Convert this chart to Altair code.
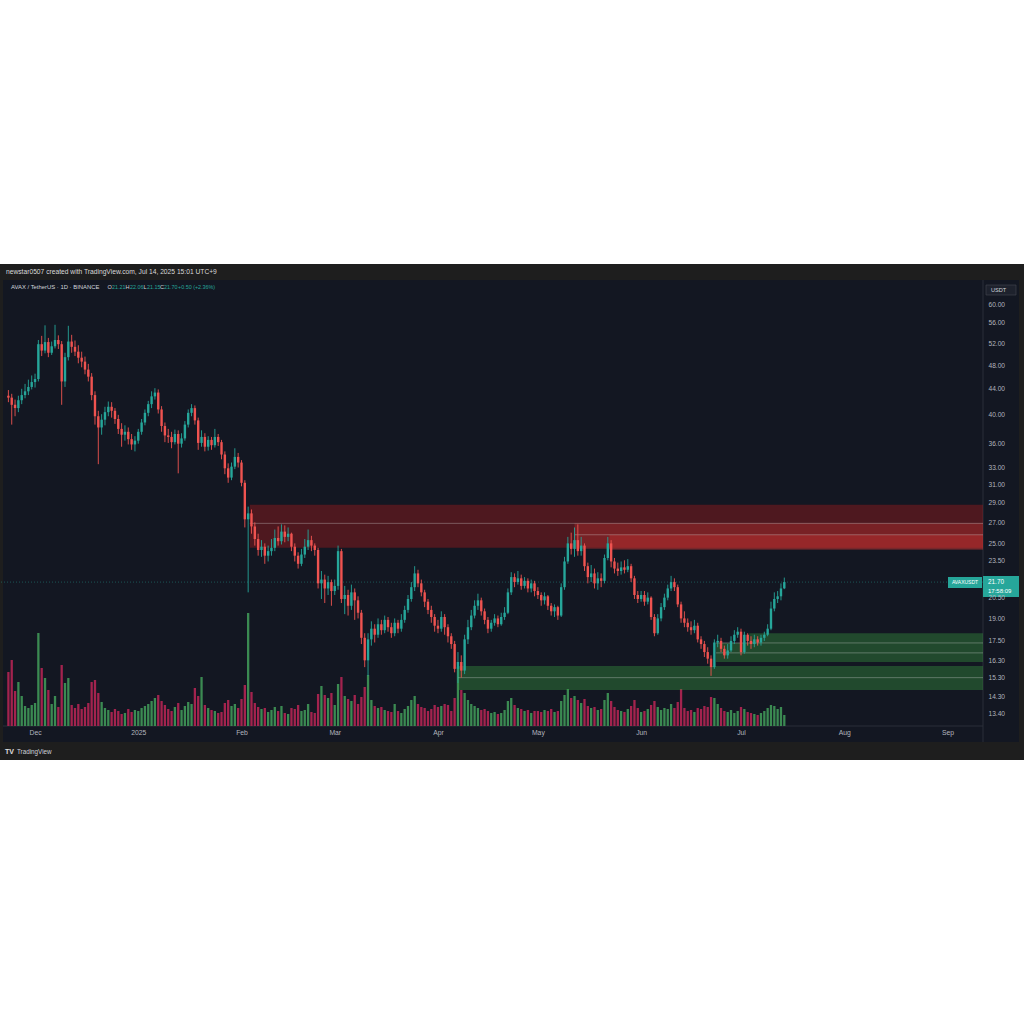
import altair as alt
import pandas as pd

FONT = "Liberation Sans"

# ---------------- data: AVAX / TetherUS, 1D, 2024-11-23 .. 2025-07-14 ----------------
first_open = 42.9
last_open = 21.21

closes_nov = [42.6, 41.5, 41.0, 42.2, 43.0, 43.6, 44.3, 45.1]
closes_dec = [45.6, 51.8, 50.6, 52.2, 50.2, 51.4, 52.6, 51.8, 45.2, 49.4, 52.3, 51.3, 50.4, 49.3, 48.6, 47.2,
              46.0, 43.0, 39.8, 38.2, 39.3, 40.4, 41.2, 40.6, 39.4, 38.0, 37.2, 37.6, 36.6, 35.9, 36.4]
closes_jan = [37.6, 38.9, 40.3, 41.6, 42.8, 43.4, 40.8, 38.4, 37.1, 36.9, 36.2, 37.3, 36.0, 36.7, 38.6, 40.3,
              41.0, 39.2, 36.1, 36.9, 35.6, 36.5, 35.8, 36.9, 36.2, 34.6, 32.9, 31.8, 33.1, 34.3, 33.6]
closes_feb = [31.2, 27.3, 27.9, 26.6, 25.4, 24.4, 24.7, 23.9, 24.3, 24.6, 25.5, 25.2, 26.1, 25.6, 25.9, 24.7,
              23.9, 23.2, 24.0, 24.7, 25.3, 24.8, 24.4, 21.6, 21.9, 21.2, 21.7, 21.0]
closes_mar = [21.4, 24.3, 20.4, 20.7, 19.9, 20.9, 20.3, 19.4, 17.7, 16.3, 17.6, 18.3, 17.9, 18.6, 18.2, 18.9,
              18.4, 18.0, 18.7, 18.3, 18.9, 19.6, 20.4, 21.3, 22.4, 21.6, 20.9, 20.2, 19.6, 19.1, 18.5]
closes_apr = [18.3, 19.1, 18.4, 17.8, 17.3, 15.8, 16.2, 15.7, 17.6, 18.4, 19.2, 19.9, 20.3, 19.5, 18.9, 18.3,
              18.7, 19.0, 18.6, 19.1, 19.4, 20.9, 22.1, 21.7, 22.0, 21.4, 21.8, 21.2, 21.6, 21.0]
closes_may = [20.7, 20.3, 20.6, 19.9, 19.5, 19.8, 19.2, 21.3, 23.4, 25.0, 24.5, 25.3, 24.3, 24.8, 23.0, 22.1,
              22.4, 21.6, 22.0, 21.8, 23.7, 25.0, 23.4, 22.8, 22.6, 22.9, 22.7, 23.0, 22.0, 20.7, 20.4]
closes_jun = [20.7, 20.2, 20.5, 19.1, 18.0, 19.0, 19.8, 20.5, 21.2, 21.7, 21.3, 20.0, 19.0, 18.7, 18.4, 18.2,
              18.5, 17.6, 17.3, 16.8, 16.4, 15.9, 17.4, 17.5, 17.0, 16.6, 16.9, 17.5, 17.9, 18.1]
closes_jul = [16.8, 17.9, 17.5, 17.3, 17.6, 17.4, 17.7, 17.9, 18.3, 19.7, 20.4, 20.6, 21.20, 21.70]

highs_nov = [43.8, 43.2, 42.3, 42.9, 44.0, 44.8, 45.5, 46.2]
highs_dec = [46.5, 52.6, 53.4, 55.5, 53.0, 52.3, 55.6, 53.5, 52.4, 50.2, 55.4, 53.6, 52.5, 51.6, 50.4, 49.5,
             48.2, 46.6, 43.6, 40.6, 40.1, 41.2, 42.0, 41.9, 41.0, 40.0, 38.8, 38.5, 38.2, 37.3, 37.0]
highs_jan = [38.0, 39.4, 40.8, 42.1, 43.6, 44.1, 43.9, 41.3, 38.9, 38.0, 37.6, 37.9, 37.8, 37.4, 39.1, 40.8,
             41.6, 41.4, 39.6, 37.8, 37.4, 37.0, 36.9, 38.0, 37.3, 36.5, 35.0, 33.5, 33.6, 35.4, 34.8]
highs_feb = [33.9, 31.5, 28.6, 28.3, 27.0, 25.9, 25.3, 25.0, 24.8, 25.4, 26.3, 26.6, 26.8, 26.7, 26.5, 26.0,
             25.0, 24.2, 24.5, 25.4, 26.3, 25.7, 25.0, 24.6, 22.6, 22.3, 22.2, 21.9]
highs_mar = [21.9, 24.8, 24.5, 21.4, 21.1, 21.5, 21.2, 20.6, 19.6, 18.0, 18.0, 18.8, 18.6, 19.0, 18.9, 19.2,
             19.1, 18.7, 19.0, 18.9, 19.3, 19.9, 20.7, 21.7, 23.0, 22.7, 21.9, 21.1, 20.4, 19.9, 19.3]
highs_apr = [18.9, 19.5, 19.3, 18.6, 18.0, 17.5, 16.8, 16.6, 17.9, 18.9, 19.6, 20.3, 20.8, 20.5, 19.7, 19.1,
             18.9, 19.3, 19.2, 19.4, 19.8, 21.2, 22.5, 22.4, 22.6, 22.3, 22.1, 22.0, 21.9, 21.8]
highs_may = [21.3, 20.9, 20.9, 20.7, 20.1, 20.0, 19.9, 21.6, 23.8, 25.6, 26.0, 26.5, 26.8, 25.6, 25.0, 23.3,
             23.1, 22.8, 22.5, 22.4, 24.0, 25.6, 25.3, 23.7, 23.3, 23.4, 23.5, 23.6, 23.2, 22.2, 21.0]
highs_jun = [21.0, 21.0, 20.9, 20.6, 19.3, 19.3, 20.1, 20.8, 21.5, 22.2, 22.0, 21.5, 20.2, 19.5, 19.0, 18.8,
             18.9, 18.7, 17.8, 17.5, 17.1, 16.6, 17.6, 17.9, 17.7, 17.2, 17.3, 17.8, 18.2, 18.4]
highs_jul = [18.3, 18.1, 18.0, 17.8, 17.9, 17.8, 17.9, 18.1, 18.6, 20.2, 20.9, 21.0, 21.6, 22.06]

lows_nov = [41.9, 38.6, 39.8, 40.4, 41.6, 42.5, 43.0, 43.9]
lows_dec = [44.2, 45.2, 49.6, 50.1, 49.4, 49.8, 51.0, 50.9, 41.5, 44.3, 48.8, 50.2, 49.6, 48.3, 47.6, 46.4,
            45.2, 42.2, 38.6, 33.4, 37.2, 38.5, 39.8, 39.6, 38.7, 37.3, 35.6, 36.4, 35.9, 35.2, 35.0]
lows_jan = [36.0, 37.2, 38.5, 39.8, 41.0, 42.3, 40.2, 37.6, 36.2, 36.1, 35.4, 35.9, 32.3, 35.5, 36.4, 38.2,
            39.8, 38.6, 35.2, 35.6, 35.0, 35.1, 35.2, 35.5, 35.7, 34.0, 32.2, 31.2, 31.5, 32.8, 33.0]
lows_feb = [30.8, 26.5, 20.9, 25.9, 24.8, 23.9, 23.8, 23.2, 23.4, 23.9, 24.3, 24.8, 24.9, 25.1, 25.2, 24.3,
            23.4, 22.8, 23.0, 23.7, 24.4, 24.3, 23.9, 21.2, 20.4, 20.1, 20.7, 19.9]
lows_mar = [20.7, 21.1, 20.1, 19.3, 19.2, 19.6, 18.9, 19.0, 17.3, 15.9, 15.4, 17.2, 17.4, 17.7, 17.9, 18.0,
            18.1, 17.7, 17.8, 18.0, 18.1, 18.7, 19.4, 20.2, 21.0, 21.3, 20.6, 19.8, 19.3, 18.7, 18.1]
lows_apr = [18.0, 18.1, 17.9, 17.4, 17.0, 15.6, 15.0, 15.3, 15.5, 17.3, 18.2, 19.0, 19.6, 19.2, 18.6, 18.0,
            18.1, 18.5, 18.4, 18.5, 18.9, 19.3, 20.7, 21.3, 21.5, 21.1, 21.2, 20.9, 20.9, 20.6]
lows_may = [20.4, 19.9, 20.0, 19.6, 19.2, 19.1, 18.9, 19.1, 21.1, 23.2, 24.0, 23.8, 23.9, 23.9, 22.6, 21.6,
            21.7, 21.2, 21.1, 21.3, 21.6, 23.5, 22.9, 22.4, 22.2, 22.3, 22.4, 22.5, 21.7, 20.4, 20.1]
lows_jun = [20.2, 19.9, 20.0, 18.9, 17.8, 17.9, 18.8, 19.6, 20.3, 21.0, 21.0, 19.8, 18.7, 18.4, 18.1, 17.9,
            18.0, 17.4, 17.0, 16.5, 16.1, 15.4, 15.8, 17.1, 16.8, 16.4, 16.4, 16.8, 17.3, 17.7]
lows_jul = [16.6, 16.7, 17.2, 17.0, 17.1, 17.2, 17.2, 17.5, 17.8, 18.2, 19.5, 20.1, 20.3, 21.15]

# volume, millions of AVAX
vol_nov = [10.8, 13.2, 7.0, 8.8, 6.0, 4.0, 3.6, 4.2]
vol_dec = [4.6, 18.6, 11.6, 9.6, 7.2, 4.4, 6.0, 3.8, 12.2, 8.6, 9.6, 4.2, 3.6, 4.4, 3.4, 3.8,
           4.6, 8.8, 9.2, 6.6, 4.8, 3.6, 3.2, 2.8, 3.4, 3.0, 2.4, 2.6, 3.4, 2.8, 3.2]
vol_jan = [3.0, 3.6, 4.0, 4.4, 5.0, 5.6, 6.2, 5.0, 4.2, 3.4, 3.0, 3.8, 4.6, 3.2, 4.0, 4.8,
           4.4, 7.6, 6.0, 9.8, 4.2, 3.6, 3.2, 3.0, 2.6, 2.8, 4.6, 5.2, 4.0, 4.4, 3.6]
vol_feb = [5.4, 8.2, 22.6, 6.8, 4.6, 3.8, 3.4, 3.6, 2.8, 3.2, 3.8, 3.0, 4.0, 2.6, 2.4, 3.6,
           3.4, 4.2, 3.0, 3.2, 4.4, 2.8, 2.6, 6.4, 8.0, 6.2, 5.6, 6.6]
vol_mar = [4.2, 8.4, 9.8, 6.0, 5.4, 5.0, 6.2, 4.4, 5.8, 7.8, 10.2, 5.2, 4.0, 3.6, 3.8, 3.2,
           3.0, 2.8, 4.4, 3.0, 2.6, 3.4, 4.0, 5.2, 6.0, 4.4, 3.8, 3.6, 3.0, 3.4, 4.2]
vol_apr = [3.8, 4.0, 4.4, 4.2, 3.0, 5.6, 11.8, 7.2, 6.6, 5.2, 4.4, 4.0, 3.6, 3.2, 3.4, 3.0,
           2.6, 2.8, 2.4, 2.6, 3.2, 5.0, 5.6, 4.2, 3.6, 3.4, 3.0, 3.2, 2.6, 3.0]
vol_may = [3.0, 2.8, 3.2, 3.0, 3.4, 2.8, 3.0, 5.0, 6.2, 7.4, 5.6, 6.0, 5.2, 4.6, 5.4, 4.0,
           3.6, 3.8, 3.2, 3.4, 5.2, 6.6, 5.0, 3.8, 3.2, 3.0, 2.8, 3.4, 4.0, 5.2, 3.6]
vol_jun = [2.8, 3.0, 3.4, 4.2, 5.0, 3.8, 3.2, 3.6, 3.4, 4.4, 3.6, 4.8, 7.4, 3.6, 3.0, 3.2,
           2.8, 3.6, 3.4, 4.0, 3.8, 5.8, 5.6, 4.4, 3.6, 3.0, 2.8, 3.2, 2.6, 3.0]
vol_jul = [3.8, 3.4, 2.8, 2.6, 2.4, 2.2, 2.6, 3.0, 3.6, 4.2, 4.0, 3.4, 3.8, 2.2]

# drawn zones (price levels) and their start dates
zone_kind = ["supply", "supply_core", "supply_core", "demand", "demand", "demand"]
zone_start = ["2025-02-03T12:00:00Z", "2025-05-12T00:00:00Z", "2025-05-22T12:00:00Z",
              "2025-04-07T00:00:00Z", "2025-06-23T12:00:00Z", "2025-07-03T12:00:00Z"]
zone_top = [28.8, 26.9, 25.8, 15.97, 17.37, 18.0]
zone_bottom = [24.6, 24.5, 24.4, 14.63, 16.2, 17.37]
level_start = ["2025-02-03T12:00:00Z", "2025-05-12T00:00:00Z", "2025-04-07T00:00:00Z",
               "2025-06-23T12:00:00Z", "2025-06-23T12:00:00Z"]
level_price = [26.9, 25.8, 15.3, 17.37, 16.75]

price_ticks = [60, 56, 52, 48, 44, 40, 36, 33, 31, 29, 27, 25, 23.5, 20.5, 19, 17.5, 16.3, 15.3, 14.3, 13.4]
month_ticks = [(2024, 12), (2025, 1), (2025, 2), (2025, 3), (2025, 4), (2025, 5), (2025, 6),
               (2025, 7), (2025, 8), (2025, 9)]

header_text = "newstar0507 created with TradingView.com, Jul 14, 2025 15:01 UTC+9"
symbol_text = "AVAX / TetherUS · 1D · BINANCE"
clock_text = "17:58:09"

# ---------------- frames ----------------
closes = closes_nov + closes_dec + closes_jan + closes_feb + closes_mar + closes_apr + closes_may + closes_jun + closes_jul
highs = highs_nov + highs_dec + highs_jan + highs_feb + highs_mar + highs_apr + highs_may + highs_jun + highs_jul
lows = lows_nov + lows_dec + lows_jan + lows_feb + lows_mar + lows_apr + lows_may + lows_jun + lows_jul
volumes = vol_nov + vol_dec + vol_jan + vol_feb + vol_mar + vol_apr + vol_may + vol_jun + vol_jul
opens = [first_open] + closes[:-2] + [last_open]

dates = pd.date_range("2024-11-23", periods=len(closes), freq="D")
df = pd.DataFrame({
    "date": dates.strftime("%Y-%m-%dT00:00:00Z"),
    "open": opens, "high": highs, "low": lows, "close": closes, "volume": volumes,
})
df["high"] = df[["high", "open", "close"]].max(axis=1)
df["low"] = df[["low", "open", "close"]].min(axis=1)

END = "2025-09-11T16:00:00Z"
zones = pd.DataFrame({"kind": zone_kind, "start": zone_start, "end": END, "top": zone_top, "bottom": zone_bottom})
levels = pd.DataFrame({"start": level_start, "end": END, "price": level_price})

last = df.iloc[[-1]].copy()
last["ptxt"] = last["close"].map(lambda v: f"{v:.2f}")
last["clock"] = clock_text
prev_close = df["close"].iloc[-2]
chg = last["close"].iloc[0] - prev_close
chg_txt = f"{chg:+.2f} ({chg / prev_close * 100:+.2f}%)"
o, h, l, c = (last[k].iloc[0] for k in ["open", "high", "low", "close"])

one = pd.DataFrame({"k": [0]})

# ---------------- scales / axes ----------------
UP, DN = "#26a69a", "#ef5350"
VUP, VDN = "#3b8a52", "#a3234e"
BG, FRAME, GRIDC, TXT = "#131722", "#1e1e1e", "#2a2e39", "#b2b5be"

xs = alt.Scale(type="utc", padding=0,
               domain=[alt.DateTime(year=2024, month=11, date=20, hours=11, minutes=30, utc=True),
                       alt.DateTime(year=2025, month=9, date=11, hours=16, utc=True)])
xaxis = alt.Axis(values=[alt.DateTime(year=y, month=m, date=1, utc=True) for y, m in month_ticks],
                 labelExpr="utcFormat(datum.value, '%m') == '01' ? utcFormat(datum.value, '%Y') : utcFormat(datum.value, '%b')",
                 grid=False, ticks=False, domain=False, labelFontSize=6.8, labelColor=TXT, labelFont=FONT,
                 labelPadding=3, labelFlush=False, labelOverlap=False, title=None, zindex=2)
X = alt.X("date:T", scale=xs, axis=xaxis, title=None)

ys = alt.Scale(type="log", domain=[12.82, 64.79], nice=False, zero=False, padding=0)
yaxis = alt.Axis(orient="right", values=price_ticks, format=".2f", grid=False, ticks=False, domain=False,
                 labelFontSize=6.6, labelColor=TXT, labelFont=FONT, labelPadding=5, title=None,
                 labelOverlap=False, labelFlush=False, zindex=1)

# ---------------- background / frame ----------------
panel_outer = alt.Chart(one).mark_rect(color=FRAME).encode(
    x=alt.value(0), x2=alt.value(1024), y=alt.value(-19), y2=alt.value(477))
panel_inner = alt.Chart(one).mark_rect(color=BG).encode(
    x=alt.value(3), x2=alt.value(1019), y=alt.value(-3), y2=alt.value(459))
sep_v = alt.Chart(one).mark_rule(color=GRIDC, strokeWidth=1).encode(
    x=alt.value(983), y=alt.value(-3), y2=alt.value(459))
sep_h = alt.Chart(one).mark_rule(color=GRIDC, strokeWidth=1).encode(
    x=alt.value(3), x2=alt.value(983), y=alt.value(443))
usdt_box = alt.Chart(one).mark_rect(color="#1e222d", stroke="#434651", strokeWidth=0.6).encode(
    x=alt.value(986), x2=alt.value(1016), y=alt.value(2), y2=alt.value(12))


def label(text, x, y, color="#d1d4dc", size=6.0, weight="normal"):
    return alt.Chart(one).mark_text(text=text, align="left", baseline="middle", font=FONT, fontSize=size,
                                    color=color, fontWeight=weight).encode(x=alt.value(x), y=alt.value(y))


LG = "#d1d4dc"
texts = [
    label(header_text, 6, -11, "#d9d9d9", 6.7),
    label(symbol_text, 11, 4, LG, 5.9),
    label("O", 107.5, 4, LG, 5.6), label(f"{o:.2f}", 112, 4, UP, 5.4),
    label("H", 125.5, 4, LG, 5.6), label(f"{h:.2f}", 130, 4, UP, 5.4),
    label("L", 143.5, 4, LG, 5.6), label(f"{l:.2f}", 147, 4, UP, 5.4),
    label("C", 160, 4, LG, 5.6), label(f"{c:.2f}", 164, 4, UP, 5.4),
    label(chg_txt, 178, 4, UP, 5.4),
    label("USDT", 991, 7, LG, 5.6),
    label("TV", 5, 469, "#e0e0e0", 7.0, "bold"),
    label("TradingView", 17, 469, LG, 6.3),
]

bg_layer = alt.layer(panel_outer, panel_inner, sep_v, sep_h, usdt_box, *texts)

# ---------------- volume ----------------
volume = alt.Chart(df).mark_bar(size=2.3).encode(
    x=X,
    y=alt.Y("volume:Q", scale=alt.Scale(domain=[0, 88.6], nice=False, zero=True, padding=0), axis=None, title=None),
    color=alt.condition("datum.close >= datum.open", alt.value(VUP), alt.value(VDN)),
)

# ---------------- price ----------------
def zone_layer(kind, color, opacity):
    return alt.Chart(zones[zones["kind"] == kind]).mark_rect(color=color, opacity=opacity).encode(
        x=alt.X("start:T", scale=xs, axis=xaxis, title=None), x2="end:T",
        y=alt.Y("top:Q", scale=ys, axis=yaxis, title=None), y2="bottom:Q")


z_supply = zone_layer("supply", "#b71c1c", 0.36)
z_core = zone_layer("supply_core", "#e53935", 0.28)
z_demand = zone_layer("demand", "#3a9a40", 0.38)

lvl = alt.Chart(levels).mark_rule(color="#d0d0d0", opacity=0.45, strokeWidth=0.8).encode(
    x=alt.X("start:T", scale=xs, axis=xaxis, title=None), x2="end:T",
    y=alt.Y("price:Q", scale=ys, axis=yaxis, title=None))

cur_line = alt.Chart(last).mark_rule(color=UP, opacity=0.55, strokeWidth=0.8, strokeDash=[1, 2]).encode(
    y=alt.Y("close:Q", scale=ys, axis=yaxis, title=None))

wicks = alt.Chart(df).mark_rule(strokeWidth=0.9).encode(
    x=X, y=alt.Y("low:Q", scale=ys, axis=yaxis, title=None), y2="high:Q",
    color=alt.condition("datum.close >= datum.open", alt.value(UP), alt.value(DN)))

bodies = alt.Chart(df).mark_bar(size=2.4).encode(
    x=X, y=alt.Y("open:Q", scale=ys, axis=yaxis, title=None), y2="close:Q",
    color=alt.condition("datum.close >= datum.open", alt.value(UP), alt.value(DN)))

pbox = alt.Chart(last).mark_rect(color=UP, yOffset=-6, y2Offset=15).encode(
    x=alt.value(983), x2=alt.value(1019),
    y=alt.Y("close:Q", scale=ys, axis=yaxis, title=None), y2="close:Q")
sbox = alt.Chart(last).mark_rect(color=UP, yOffset=-5, y2Offset=6).encode(
    x=alt.value(948), x2=alt.value(982),
    y=alt.Y("close:Q", scale=ys, axis=yaxis, title=None), y2="close:Q")
ptxt = alt.Chart(last).mark_text(align="left", baseline="middle", font=FONT, fontSize=6.4, color="white").encode(
    x=alt.value(988), y=alt.Y("close:Q", scale=ys, axis=yaxis, title=None), text="ptxt:N")
ctxt = alt.Chart(last).mark_text(align="left", baseline="middle", font=FONT, fontSize=6.0, color="white", dy=9).encode(
    x=alt.value(988), y=alt.Y("close:Q", scale=ys, axis=yaxis, title=None), text="clock:N")
stxt = alt.Chart(last).mark_text(text="AVAXUSDT", align="center", baseline="middle", font=FONT, fontSize=5.0,
                                 color="white").encode(
    x=alt.value(965), y=alt.Y("close:Q", scale=ys, axis=yaxis, title=None))

price_layer = alt.layer(z_supply, z_core, z_demand, lvl, cur_line, wicks, bodies, sbox, stxt, pbox, ptxt, ctxt)

chart = alt.layer(bg_layer, volume, price_layer).resolve_scale(y="independent").properties(
    width=983, height=443,
    autosize=alt.AutoSizeParams(type="none"),
    padding={"left": 0, "top": 283, "right": 41, "bottom": 298},
    background="white",
).configure_view(strokeWidth=0).configure_axis(zindex=1)

chart.save("out.html", embed_options={"renderer": "svg", "actions": False})
